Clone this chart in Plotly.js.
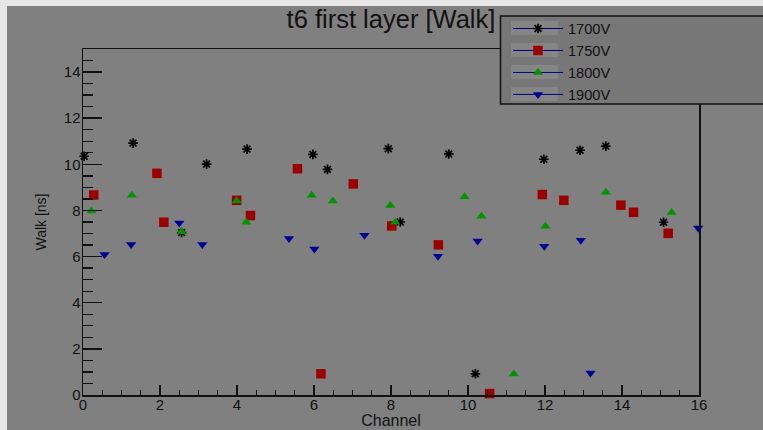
<!DOCTYPE html>
<html>
<head>
<meta charset="utf-8">
<script src="https://cdn.plot.ly/plotly-3.0.1.min.js"></script>
<style>html,body{margin:0;padding:0;background:#e6e6e6;}#chart{width:763px;height:430px;}</style>
</head>
<body>
<div id="chart"></div>
<script>
// ---- data ----
const seriesNames = ["1700V", "1750V", "1800V", "1900V"];

const ch1700   = [0.03, 1.30, 2.56, 3.21, 4.26, 5.97, 6.35, 7.93, 8.24, 9.50, 10.19, 11.97, 12.91, 13.58, 15.08];
const walk1700 = [10.35, 10.92, 7.04, 10.01, 10.66, 10.43, 9.78, 10.68, 7.50, 10.45, 0.92, 10.22, 10.61, 10.79, 7.49];

const ch1750   = [0.28, 1.92, 2.10, 3.99, 4.35, 5.57, 6.18, 7.02, 8.02, 9.23, 10.56, 11.93, 12.49, 13.97, 14.30, 15.20];
const walk1750 = [8.67, 9.61, 7.49, 8.44, 7.78, 9.81, 0.92, 9.15, 7.33, 6.51, 0.06, 8.69, 8.44, 8.23, 7.92, 7.01];

const ch1800   = [0.22, 1.27, 2.56, 3.99, 4.24, 5.94, 6.49, 7.98, 8.11, 9.91, 10.35, 11.19, 12.01, 13.58, 15.29];
const walk1800 = [7.98, 8.66, 7.07, 8.41, 7.49, 8.66, 8.41, 8.21, 7.49, 8.60, 7.75, 0.91, 7.32, 8.79, 7.91];

const ch1900   = [0.56, 1.25, 2.50, 3.10, 5.35, 6.01, 7.31, 9.22, 10.25, 11.98, 12.93, 13.18, 15.98];
const walk1900 = [6.09, 6.52, 7.46, 6.52, 6.78, 6.33, 6.93, 6.02, 6.68, 6.45, 6.71, 0.95, 7.24];

const xTickVals = [0, 2, 4, 6, 8, 10, 12, 14, 16];
const yTickVals = [0, 2, 4, 6, 8, 10, 12, 14];

// ---- helpers ----
// interleave nulls so no connecting line is drawn, but the legend shows line + marker
function gap(arr) { const out = []; arr.forEach(v => { out.push(v); out.push(null); }); return out; }

const FONT = '"Liberation Sans", Arial, Helvetica, sans-serif';
const legendLine = {color: '#000080', width: 1};

const traces = [
  {x: gap(ch1700), y: gap(walk1700), name: seriesNames[0], mode: 'lines+markers', connectgaps: false,
   line: legendLine, marker: {symbol: 'asterisk', size: 8, color: '#000', line: {color: '#000', width: 1.7}}},
  {x: gap(ch1750), y: gap(walk1750), name: seriesNames[1], mode: 'lines+markers', connectgaps: false,
   line: legendLine, marker: {symbol: 'square', size: 9.5, color: '#9b0000', line: {width: 0}}},
  {x: gap(ch1800), y: gap(walk1800), name: seriesNames[2], mode: 'lines+markers', connectgaps: false,
   line: legendLine, marker: {symbol: 'triangle-up', size: 9, color: '#009400', line: {width: 0}}},
  {x: gap(ch1900), y: gap(walk1900), name: seriesNames[3], mode: 'lines+markers', connectgaps: false,
   line: legendLine, marker: {symbol: 'triangle-down', size: 9, color: '#000096', line: {width: 0}}}
];
traces.forEach(t => { t.cliponaxis = false; t.hoverinfo = 'skip'; });

// plot area: left 83, right 699, top 49, bottom 395 (px)
const L = 83, R = 699, T = 49, B = 395, W = 763, H = 430;
const px2x = p => (p - L) / (R - L);
const px2y = p => 1 - (p - T) / (B - T);

const axisCommon = {
  showline: true, linecolor: '#111', linewidth: 1.5, mirror: true,
  ticks: 'inside', tickcolor: '#111', tickwidth: 1.5,
  showgrid: false, zeroline: false,
  tickfont: {family: FONT, size: 15, color: '#111'},
  fixedrange: true
};

// light backgrounds behind the legend samples (legend entry centres, px)
const legendRows = [28, 50, 72, 94];
const sampleShapes = legendRows.map(c => ({
  type: 'rect', xref: 'paper', yref: 'paper', layer: 'above',
  x0: px2x(511), x1: px2x(558), y0: px2y(c + 7), y1: px2y(c - 7),
  fillcolor: '#858585', line: {width: 0}
}));

const layout = {
  width: W, height: H,
  margin: {l: L, r: W - R, t: T, b: H - B, pad: 0},
  paper_bgcolor: '#e6e6e6',
  plot_bgcolor: 'rgba(0,0,0,0)',
  font: {family: FONT, color: '#111'},
  title: {text: 't6 first layer [Walk]', font: {family: FONT, size: 25.5, color: '#111'},
          x: 0.5, xref: 'paper', xanchor: 'center', y: 1 - 19 / H, yref: 'container', yanchor: 'middle'},
  xaxis: Object.assign({}, axisCommon, {
    range: [0, 16], tickvals: xTickVals, ticklen: 10, ticklabelstandoff: -5,
    minor: {dtick: 0.5, tick0: 0, ticks: 'inside', ticklen: 5, tickcolor: '#111', tickwidth: 1.3, showgrid: false},
    title: {text: 'Channel', font: {family: FONT, size: 16, color: '#111'}, standoff: 2}
  }),
  yaxis: Object.assign({}, axisCommon, {
    range: [0, 15], tickvals: yTickVals, ticklen: 19, ticklabelstandoff: -2,
    minor: {dtick: 0.5, tick0: 0, ticks: 'inside', ticklen: 10, tickcolor: '#111', tickwidth: 1.3, showgrid: false},
    title: {text: 'Walk [ns]', font: {family: FONT, size: 14, color: '#111'}, standoff: 14}
  }),
  showlegend: true,
  legend: {
    x: px2x(508), xanchor: 'left', y: px2y(12.5), yanchor: 'top',
    bgcolor: 'rgba(0,0,0,0)', borderwidth: 0,
    font: {family: FONT, size: 14.6, color: '#111'},
    itemwidth: 50, itemclick: false, itemdoubleclick: false
  },
  shapes: [
    // gray canvas (light frame at top and left)
    {type: 'rect', xref: 'paper', yref: 'paper', layer: 'below',
     x0: px2x(7), x1: px2x(W + 5), y0: px2y(H + 5), y1: px2y(6),
     fillcolor: '#808080', line: {width: 0}},
    // legend box
    {type: 'rect', xref: 'paper', yref: 'paper', layer: 'above',
     x0: px2x(500.5), x1: px2x(W + 20), y0: px2y(104), y1: px2y(16),
     fillcolor: '#777777', line: {color: '#111', width: 1.5}}
  ].concat(sampleShapes)
};

Plotly.newPlot('chart', traces, layout, {displayModeBar: false, staticPlot: true});
</script>
</body>
</html>
